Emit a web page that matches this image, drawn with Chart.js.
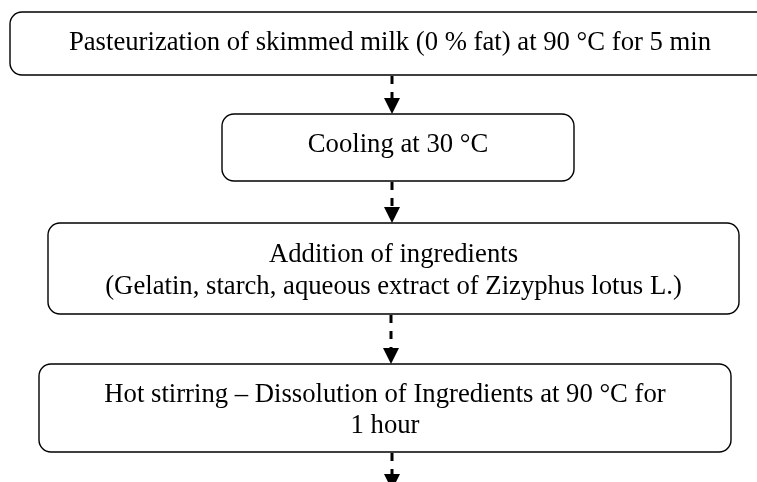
<!DOCTYPE html>
<html>
<head>
<meta charset="utf-8">
<script src="https://cdn.jsdelivr.net/npm/chart.js@4.4.1/dist/chart.umd.min.js"></script>
<style>
  html, body { margin: 0; padding: 0; background: #fff; }
  #flow { display: block; }
</style>
</head>
<body>
<canvas id="flow" width="757" height="482"></canvas>
<script>
  // steps of the process, one entry per box (lines of text)
  const step_titles = [
    ['Pasteurization of skimmed milk (0 % fat) at 90 °C for 5 min'],
    ['Cooling at 30 °C'],
    ['Addition of ingredients', '(Gelatin, starch, aqueous extract of Zizyphus lotus L.)'],
    ['Hot stirring – Dissolution of Ingredients at 90 °C for', '1 hour'],
  ];

  // layout in scale units (x: 0..757, y: 0..482 from the top)
  const box_layout = [
    { left: 10, top: 12, right: 770, bottom: 75, baselines: [50] },
    { left: 222, top: 114, right: 574, bottom: 181, baselines: [152] },
    { left: 48, top: 223, right: 739, bottom: 314, baselines: [262, 294] },
    { left: 39, top: 364, right: 731, bottom: 452, baselines: [402, 433] },
  ];
  const arrow_x = [392, 392, 391, 392];
  const last_arrow_end = 490;

  function roundRect(ctx, x, y, w, h, r) {
    ctx.beginPath();
    ctx.moveTo(x + r, y);
    ctx.lineTo(x + w - r, y);
    ctx.arcTo(x + w, y, x + w, y + r, r);
    ctx.lineTo(x + w, y + h - r);
    ctx.arcTo(x + w, y + h, x + w - r, y + h, r);
    ctx.lineTo(x + r, y + h);
    ctx.arcTo(x, y + h, x, y + h - r, r);
    ctx.lineTo(x, y + r);
    ctx.arcTo(x, y, x + r, y, r);
    ctx.closePath();
  }

  // draws the boxes, texts and dashed arrows through the chart scales
  const flowPlugin = {
    id: 'flow',
    afterDraw(chart) {
      const ctx = chart.ctx;
      const sx = chart.scales.x, sy = chart.scales.y;
      const px = v => sx.getPixelForValue(v);
      const py = v => sy.getPixelForValue(v);
      ctx.save();

      box_layout.forEach((b, i) => {
        const x0 = px(b.left), x1 = px(b.right);
        const y0 = py(b.top), y1 = py(b.bottom);
        ctx.lineWidth = 1.4;
        ctx.strokeStyle = '#000';
        ctx.setLineDash([]);
        roundRect(ctx, x0, y0, x1 - x0, y1 - y0, 12);
        ctx.stroke();

        ctx.fillStyle = '#000';
        ctx.font = '26.7px "Liberation Serif", "Times New Roman", serif';
        ctx.textAlign = 'center';
        ctx.textBaseline = 'alphabetic';
        const cx = (x0 + x1) / 2;
        step_titles[i].forEach((line, j) => {
          ctx.fillText(line, cx, py(b.baselines[j]));
        });

        // arrow to next box (or off the bottom for the last one)
        const ax = px(arrow_x[i]);
        const start = py(b.bottom) + 1;
        const end = i < box_layout.length - 1 ? py(box_layout[i + 1].top) : py(last_arrow_end);
        const headH = 16, headW = 8;
        ctx.lineWidth = 3;
        ctx.setLineDash([8, 8]);
        ctx.beginPath();
        ctx.moveTo(ax, start);
        ctx.lineTo(ax, end - headH + 2);
        ctx.stroke();
        ctx.setLineDash([]);
        ctx.beginPath();
        ctx.moveTo(ax - headW, end - headH);
        ctx.lineTo(ax + headW, end - headH);
        ctx.lineTo(ax, end);
        ctx.closePath();
        ctx.fill();
      });

      ctx.restore();
    }
  };

  const flow_config = {
    type: 'scatter',
    data: { datasets: [] },
    options: {
      responsive: false,
      animation: false,
      layout: { padding: 0 },
      plugins: { legend: { display: false }, tooltip: { enabled: false } },
      scales: {
        x: { type: 'linear', min: 0, max: 757, display: false },
        y: { type: 'linear', min: 0, max: 482, reverse: true, display: false }
      }
    },
    plugins: [flowPlugin]
  };

  var flow_chart = new Chart(document.getElementById('flow'), flow_config);
</script>
</body>
</html>
